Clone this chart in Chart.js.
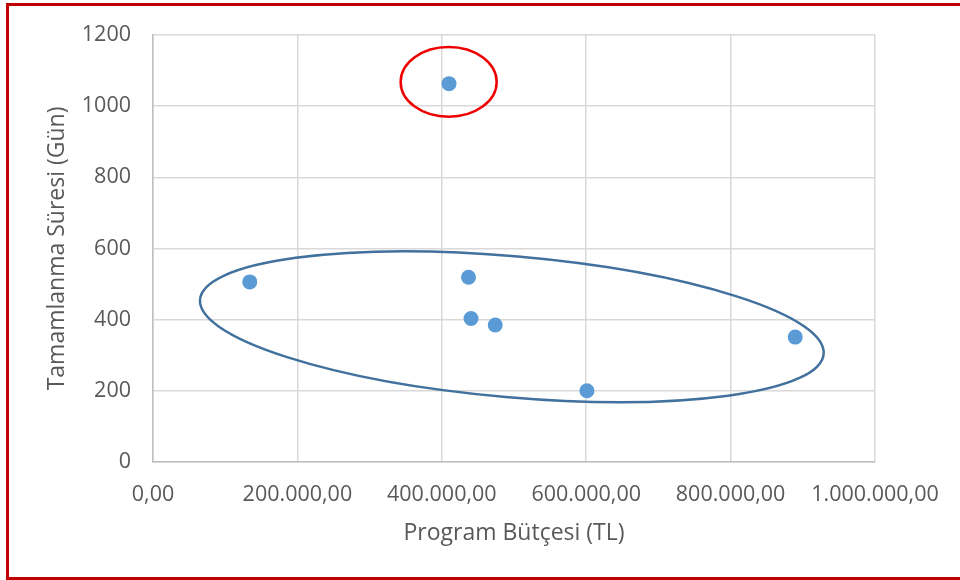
<!DOCTYPE html>
<html>
<head>
<meta charset="utf-8">
<script src="https://cdn.jsdelivr.net/npm/chart.js@4.4.0/dist/chart.umd.min.js"></script>
<style>
html,body{margin:0;padding:0;background:#fff;}
#wrap{position:relative;width:960px;height:580px;overflow:hidden;}
#frame{position:absolute;left:6px;top:3px;width:970px;height:577px;border:3.5px solid #c00000;box-sizing:border-box;pointer-events:none;}
canvas{position:absolute;left:0;top:0;}
</style>
</head>
<body>
<div id="wrap">
<canvas id="c" width="960" height="580"></canvas>
<div id="frame"></div>
</div>
<script>
// Data
const budgets = [134000, 410000, 437000, 440500, 474000, 601000, 889500];
const durations = [506, 1063, 519, 403, 385, 200, 351];
const xTicksMax = 1000000;
const yTicksMax = 1200;
const xAxisTitle = "Program Bütçesi (TL)";
const yAxisTitle = "Tamamlanma Süresi (Gün)";
// Highlight ellipses (data units)
const redEllipse = {cx: 409500, cy: 1068, rx: 66500, ry: 98};
const blueEllipse = {cx: 497000, cy: 380, rx: 433500, ry: 198, rotDeg: 5};

function fmtTR(v){
  const neg = v < 0; v = Math.abs(v);
  let s = v.toFixed(2);
  let [i, d] = s.split('.');
  i = i.replace(/\B(?=(\d{3})+(?!\d))/g, '.');
  return (neg?'-':'') + i + ',' + d;
}

const textColor = '#595959';
const fontFamily = '"Open Sans", sans-serif';

const ellipsePlugin = {
  id: 'ellipses',
  afterDatasetsDraw(chart){
    const {ctx, scales:{x, y}} = chart;
    ctx.save();
    {
      const px = x.getPixelForValue(blueEllipse.cx), py = y.getPixelForValue(blueEllipse.cy);
      const rx = x.getPixelForValue(blueEllipse.cx + blueEllipse.rx) - px;
      const ry = py - y.getPixelForValue(blueEllipse.cy + blueEllipse.ry);
      ctx.beginPath();
      ctx.ellipse(px, py, rx, ry, blueEllipse.rotDeg*Math.PI/180, 0, Math.PI*2);
      ctx.strokeStyle = '#41719c';
      ctx.lineWidth = 2.5;
      ctx.stroke();
    }
    {
      const px = x.getPixelForValue(redEllipse.cx), py = y.getPixelForValue(redEllipse.cy);
      const rx = x.getPixelForValue(redEllipse.cx + redEllipse.rx) - px;
      const ry = py - y.getPixelForValue(redEllipse.cy + redEllipse.ry);
      ctx.beginPath();
      ctx.ellipse(px, py, rx, ry, 0, 0, Math.PI*2);
      ctx.strokeStyle = '#ee0000';
      ctx.lineWidth = 2.5;
      ctx.stroke();
    }
    ctx.restore();
  }
};

new Chart(document.getElementById('c'), {
  type: 'scatter',
  data: {
    datasets: [{
      data: budgets.map((b, i) => ({x: b, y: durations[i]})),
      backgroundColor: '#5b9bd5',
      borderColor: '#5b9bd5',
      pointRadius: 7.5,
      pointBorderWidth: 0
    }]
  },
  options: {
    responsive: false,
    animation: false,
    layout: {padding: {left: 8, top: 33, right: 85, bottom: 0}},
    plugins: {legend: {display: false}, tooltip: {enabled: false}},
    scales: {
      x: {
        type: 'linear', min: 0, max: xTicksMax,
        afterFit(s){ s.height = 118; },
        ticks: {stepSize: 200000, autoSkip: false, maxRotation: 0, padding: 20, color: textColor,
                font: {family: fontFamily, size: 21.5}, callback: v => fmtTR(v)},
        grid: {color: '#d9d9d9', lineWidth: 1.5, drawTicks: false},
        border: {color: '#bfbfbf', width: 1.5},
        title: {display: true, text: xAxisTitle, color: textColor, font: {family: fontFamily, size: 23},
                padding: {top: 0, bottom: 33}}
      },
      y: {
        type: 'linear', min: 0, max: yTicksMax,
        afterFit(s){ s.width = 145; },
        ticks: {stepSize: 200, padding: 22, color: textColor, font: {family: fontFamily, size: 21.5},
                callback: v => String(v)},
        grid: {color: '#d9d9d9', lineWidth: 1.5, drawTicks: false},
        border: {color: '#bfbfbf', width: 1.5},
        title: {display: true, text: yAxisTitle, color: textColor, font: {family: fontFamily, size: 23},
                padding: {top: 36, bottom: 0}}
      }
    }
  },
  plugins: [ellipsePlugin]
});
</script>
</body>
</html>
